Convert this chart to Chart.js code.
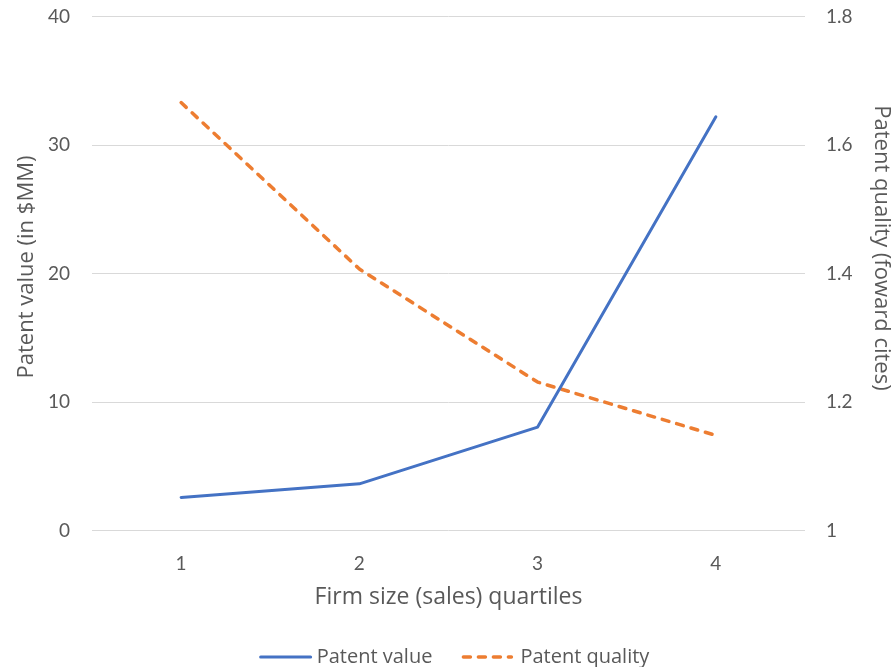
<!DOCTYPE html>
<html>
<head>
<meta charset="utf-8">
<script src="https://cdn.jsdelivr.net/npm/chart.js@4/dist/chart.umd.min.js"></script>
<style>
  html, body { margin: 0; padding: 0; background: #ffffff; }
  #wrap { width: 895px; height: 667px; position: relative; }
</style>
</head>
<body>
<div id="wrap"><canvas id="chart" width="895" height="667"></canvas></div>
<script>
// Firm size quartiles on the x axis
const quartiles = ['1', '2', '3', '4'];
// Average patent value, $MM (left axis)
const patentValue = [2.57, 3.63, 8.05, 32.2];
// Average forward citations per patent (right axis)
const patentQuality = [1.666, 1.407, 1.231, 1.148];
// Axis tick values
const valueTicks = [0, 10, 20, 30, 40];
const qualityTicks = [1, 1.2, 1.4, 1.6, 1.8];

const seriesNames = ['Patent value', 'Patent quality'];
const axisTitles = ['Firm size (sales) quartiles', 'Patent value (in $MM)', 'Patent quality (foward cites)'];
const TEXT = '#595959';
const GRID = '#d9d9d9';
const TICK_FONT = 'Lato, "Open Sans", sans-serif';
const TITLE_FONT = '"Open Sans", Lato, sans-serif';

// Vertical axis titles, each beside its own axis
const sideTitles = {
  id: 'sideTitles',
  afterDraw(chart) {
    const ctx = chart.ctx;
    ctx.save();
    ctx.font = '22px ' + TITLE_FONT;
    ctx.fillStyle = TEXT;
    ctx.textAlign = 'center';
    ctx.textBaseline = 'middle';
    // left axis title
    ctx.save();
    ctx.translate(27, 267);
    ctx.rotate(-Math.PI / 2);
    ctx.fillText(axisTitles[1], 0, 0);
    ctx.restore();
    // right axis title
    ctx.save();
    ctx.translate(881, 248);
    ctx.rotate(Math.PI / 2);
    ctx.fillText(axisTitles[2], 0, 0);
    ctx.restore();
    ctx.restore();
  }
};

// Legend drawn under the plot: a line sample followed by the series name
const bottomLegend = {
  id: 'bottomLegend',
  afterDraw(chart) {
    const ctx = chart.ctx;
    const y = 657;
    const sampleLen = [50, 48];
    const textGap = [6, 9];
    const itemGap = 31;
    ctx.save();
    ctx.font = '20px ' + TITLE_FONT;
    const widths = chart.data.datasets.map(d => ctx.measureText(d.label).width);
    let total = 0;
    chart.data.datasets.forEach((d, i) => {
      total += sampleLen[i] + textGap[i] + widths[i];
      if (i > 0) total += itemGap;
    });
    let x = 455 - total / 2;
    chart.data.datasets.forEach((d, i) => {
      if (i > 0) x += itemGap;
      ctx.beginPath();
      ctx.strokeStyle = d.borderColor;
      ctx.lineWidth = d.borderWidth;
      ctx.lineCap = d.borderCapStyle || 'butt';
      ctx.setLineDash(d.borderDash || []);
      ctx.moveTo(x, y);
      ctx.lineTo(x + sampleLen[i], y);
      ctx.stroke();
      ctx.setLineDash([]);
      x += sampleLen[i] + textGap[i];
      ctx.fillStyle = TEXT;
      ctx.textAlign = 'left';
      ctx.textBaseline = 'middle';
      ctx.fillText(d.label, x, y);
      x += widths[i];
    });
    ctx.restore();
  }
};

new Chart(document.getElementById('chart'), {
  type: 'line',
  data: {
    labels: quartiles,
    datasets: [
      {
        label: seriesNames[0],
        data: patentValue,
        yAxisID: 'y',
        borderColor: '#4472c4',
        backgroundColor: '#4472c4',
        borderWidth: 3,
        borderCapStyle: 'round',
        borderJoinStyle: 'round',
        pointRadius: 0,
        tension: 0
      },
      {
        label: seriesNames[1],
        data: patentQuality,
        yAxisID: 'y1',
        borderColor: '#ed7d31',
        backgroundColor: '#ed7d31',
        borderWidth: 3.5,
        borderDash: [7, 8],
        borderCapStyle: 'round',
        borderJoinStyle: 'round',
        pointRadius: 0,
        tension: 0
      }
    ]
  },
  options: {
    responsive: false,
    animation: false,
    layout: { padding: { top: 16.5, right: 0, bottom: 47, left: 0 } },
    plugins: {
      legend: { display: false },
      tooltip: { enabled: false }
    },
    scales: {
      x: {
        offset: true,
        grid: { display: false, drawTicks: false },
        border: { display: false },
        ticks: { color: TEXT, font: { family: TICK_FONT, size: 19 }, padding: 22 },
        title: {
          display: true,
          text: axisTitles[0],
          color: TEXT,
          font: { family: TITLE_FONT, size: 23 },
          padding: { top: 0, bottom: 9 }
        },
        afterFit(scale) { scale.height = 89.5; }
      },
      y: {
        position: 'left',
        min: valueTicks[0],
        max: valueTicks[valueTicks.length - 1],
        afterBuildTicks(scale) { scale.ticks = valueTicks.map(v => ({ value: v })); },
        grid: { color: GRID, lineWidth: 1, drawTicks: false },
        border: { display: false },
        ticks: { color: TEXT, font: { family: TICK_FONT, size: 19 }, padding: 22 },
        afterFit(scale) { scale.width = 92; scale.paddingTop = 0; scale.paddingBottom = 0; }
      },
      y1: {
        position: 'right',
        min: qualityTicks[0],
        max: qualityTicks[qualityTicks.length - 1],
        afterBuildTicks(scale) { scale.ticks = qualityTicks.map(v => ({ value: v })); },
        grid: { display: false, drawTicks: false },
        border: { display: false },
        ticks: {
          color: TEXT,
          font: { family: TICK_FONT, size: 19 },
          padding: 21,
          callback: v => String(Number(v.toFixed(1)))
        },
        afterFit(scale) { scale.width = 90; scale.paddingTop = 0; scale.paddingBottom = 0; }
      }
    }
  },
  plugins: [sideTitles, bottomLegend]
});
</script>
</body>
</html>
